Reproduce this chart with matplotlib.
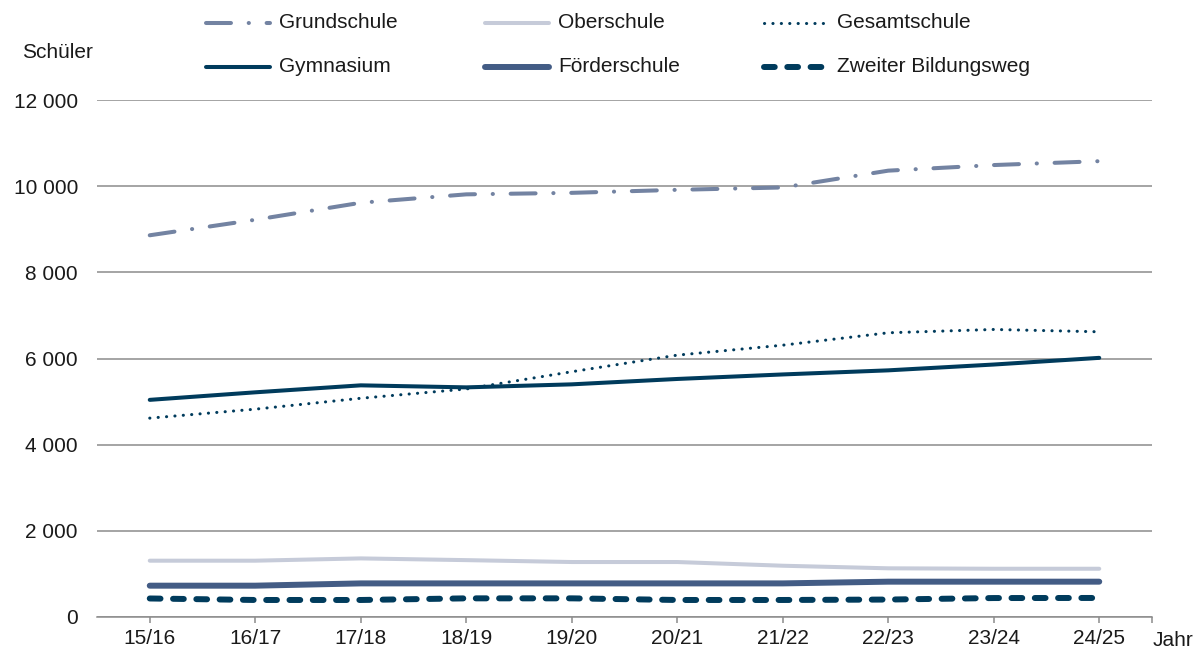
import matplotlib
matplotlib.use("Agg")
import matplotlib.pyplot as plt
from matplotlib.lines import Line2D
from matplotlib.ticker import FuncFormatter

plt.rcParams['font.family'] = ['Liberation Sans', 'DejaVu Sans']

years = ["15/16", "16/17", "17/18", "18/19", "19/20", "20/21", "21/22", "22/23", "23/24", "24/25"]
grundschule = [8860, 9220, 9615, 9810, 9845, 9915, 9970, 10360, 10490, 10580]
oberschule = [1307, 1307, 1360, 1320, 1276, 1276, 1190, 1130, 1120, 1120]
gesamtschule = [4616, 4824, 5077, 5292, 5693, 6078, 6309, 6597, 6674, 6620]
gymnasium = [5040, 5215, 5377, 5330, 5400, 5525, 5630, 5725, 5860, 6015]
foerderschule = [727, 727, 780, 780, 780, 780, 780, 820, 820, 820]
zweiter = [430, 395, 395, 433, 433, 395, 395, 405, 440, 442]

C_GRUND = "#7383A2"
C_OBER = "#C6CBD9"
C_DARK = "#003B5C"
C_FOERD = "#435C85"
C_GRID = "#8C8C8C"
C_TEXT = "#1a1a1a"
FS = 15

fig = plt.figure(figsize=(11.96, 6.55), dpi=100)
ax = fig.add_axes([97/1196, 1-617/655, (1152-97)/1196, (617-100)/655])

x = list(range(len(years)))

styles = [
    ("Grundschule", grundschule, dict(color=C_GRUND, lw=2.9, dashes=(6.2, 4.4, 0.05, 4.4), dash_capstyle='round')),
    ("Oberschule", oberschule, dict(color=C_OBER, lw=2.9, solid_capstyle='round')),
    ("Gesamtschule", gesamtschule, dict(color=C_DARK, lw=2.2, dashes=(0.05, 2.7), dash_capstyle='round')),
    ("Gymnasium", gymnasium, dict(color=C_DARK, lw=2.9, solid_capstyle='round')),
    ("Förderschule", foerderschule, dict(color=C_FOERD, lw=4.3, solid_capstyle='round')),
    ("Zweiter Bildungsweg", zweiter, dict(color=C_DARK, lw=4.3, dashes=(1.8, 2.1), dash_capstyle='round')),
]

for name, vals, st in styles:
    ax.plot(x, vals, zorder=3, **st)

ax.set_xlim(-0.5, len(years) - 0.5)
ax.set_ylim(0, 12000)
ax.set_yticks(range(0, 12001, 2000))
ax.yaxis.set_major_formatter(FuncFormatter(lambda v, p: f"{int(v):,}".replace(",", " ")))
ax.grid(axis='y', color=C_GRID, lw=1.1, zorder=1)
ax.set_axisbelow(True)
for s in ['top', 'right', 'left']:
    ax.spines[s].set_visible(False)
ax.spines['bottom'].set_color(C_GRID)
ax.spines['bottom'].set_linewidth(1.1)
ax.spines['bottom'].set_zorder(1)

ax.set_xticks(x + [len(years) - 0.5])
ax.set_xticklabels(years + [""])
ax.tick_params(axis='x', colors=C_GRID, length=4, width=1.1, pad=5, labelsize=FS, labelcolor=C_TEXT)
ax.tick_params(axis='y', length=0, pad=13.7, labelsize=FS, labelcolor=C_TEXT)

fig.text(22/1196, 1-52/655, "Schüler", fontsize=FS, color=C_TEXT, va='center', ha='left')
fig.text(1153/1196, 1-640/655, "Jahr", fontsize=FS, color=C_TEXT, va='center', ha='left')

# Legend (manually placed in figure pixel space)
leg_pos = {
    "Grundschule": (203, 23), "Oberschule": (482, 23), "Gesamtschule": (761, 23),
    "Gymnasium": (203, 67), "Förderschule": (482, 67), "Zweiter Bildungsweg": (761, 67),
}
for name, vals, st in styles:
    px, py = leg_pos[name]
    yf = 1 - py / 655
    ln = Line2D([(px+3)/1196, (px+67)/1196], [yf, yf], transform=fig.transFigure, **st)
    fig.add_artist(ln)
    fig.text((px+76)/1196, yf, name, fontsize=FS, color=C_TEXT, va='center', ha='left')

fig.savefig("out.png", dpi=100)
